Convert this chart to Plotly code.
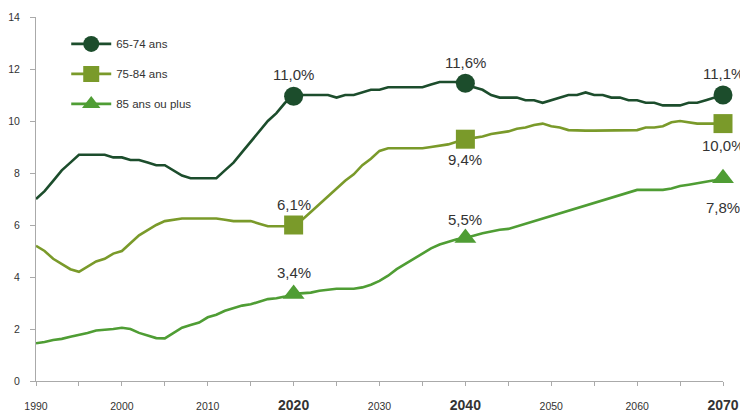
import plotly.graph_objects as go

years = list(range(1990, 2071))

s65_74 = [7.0, 7.3, 7.7, 8.1, 8.4, 8.7, 8.7, 8.7, 8.7, 8.6,
          8.6, 8.5, 8.5, 8.4, 8.3, 8.3, 8.1, 7.9, 7.8, 7.8,
          7.8, 7.8, 8.1, 8.4, 8.8, 9.2, 9.6, 10.0, 10.3, 10.7,
          10.95, 11.0, 11.0, 11.0, 11.0, 10.9, 11.0, 11.0, 11.1, 11.2,
          11.2, 11.3, 11.3, 11.3, 11.3, 11.3, 11.4, 11.5, 11.5, 11.5,
          11.45, 11.3, 11.2, 11.0, 10.9, 10.9, 10.9, 10.8, 10.8, 10.7,
          10.8, 10.9, 11.0, 11.0, 11.1, 11.0, 11.0, 10.9, 10.9, 10.8,
          10.8, 10.7, 10.7, 10.6, 10.6, 10.6, 10.7, 10.7, 10.8, 10.9,
          11.0]

s75_84 = [5.2, 5.0, 4.7, 4.5, 4.3, 4.2, 4.4, 4.6, 4.7, 4.9,
          5.0, 5.3, 5.6, 5.8, 6.0, 6.15, 6.2, 6.25, 6.25, 6.25,
          6.25, 6.25, 6.2, 6.15, 6.15, 6.15, 6.05, 5.95, 5.95, 5.95,
          6.0, 6.2, 6.5, 6.8, 7.1, 7.4, 7.7, 7.95, 8.3, 8.55,
          8.85, 8.95, 8.95, 8.95, 8.95, 8.95, 9.0, 9.05, 9.1, 9.2,
          9.3, 9.35, 9.4, 9.5, 9.55, 9.6, 9.7, 9.75, 9.85, 9.9,
          9.8, 9.75, 9.65, 9.63, 9.63, 9.63, 9.63, 9.63, 9.63, 9.63,
          9.65, 9.75, 9.75, 9.8, 9.95, 10.0, 9.95, 9.9, 9.9, 9.9,
          9.9]

s85_plus = [1.45, 1.5, 1.58, 1.62, 1.7, 1.77, 1.85, 1.94, 1.96, 2.0,
            2.05, 2.0, 1.85, 1.75, 1.65, 1.64, 1.85, 2.05, 2.15, 2.25,
            2.45, 2.55, 2.7, 2.8, 2.9, 2.95, 3.05, 3.15, 3.18, 3.25,
            3.35, 3.37, 3.4, 3.47, 3.5, 3.55, 3.55, 3.55, 3.6, 3.7,
            3.85, 4.05, 4.3, 4.5, 4.7, 4.9, 5.1, 5.25, 5.35, 5.45,
            5.5, 5.6, 5.68, 5.75, 5.82, 5.85, 5.95, 6.05, 6.15, 6.25,
            6.35, 6.45, 6.55, 6.65, 6.75, 6.85, 6.95, 7.05, 7.15, 7.25,
            7.35, 7.35, 7.35, 7.35, 7.4, 7.5, 7.55, 7.6, 7.65, 7.72,
            7.8]

key_years = [2020, 2040, 2070]
labels_65_74 = ["11,0%", "11,6%", "11,1%"]
labels_75_84 = ["6,1%", "9,4%", "10,0%"]
labels_85_plus = ["3,4%", "5,5%", "7,8%"]

series_names = ["65-74 ans", "75-84 ans", "85 ans ou plus"]
tick_years = list(range(1990, 2071, 5))
bold_years = [2020, 2040, 2070]
y_ticks = [0, 2, 4, 6, 8, 10, 12, 14]

colors = ["#1c4d2c", "#7a9a2a", "#4f9d34"]
symbols = ["circle", "square", "triangle-up"]
series = [s65_74, s75_84, s85_plus]
labels = [labels_65_74, labels_75_84, labels_85_plus]
label_shift = [[22, 21, 22],
               [21, -20, -22],
               [21, 19, -29]]

fig = go.Figure()
for i, (name, vals, col, sym, labs, shifts) in enumerate(zip(series_names, series, colors, symbols, labels, label_shift)):
    grp = "g%d" % i
    fig.add_trace(go.Scatter(x=years, y=vals, mode="lines", legendgroup=grp,
                             line=dict(color=col, width=2.6), showlegend=False,
                             hoverinfo="skip"))
    ky = [vals[years.index(k)] for k in key_years]
    fig.add_trace(go.Scatter(x=key_years, y=ky, mode="markers", legendgroup=grp,
                             marker=dict(symbol=sym, size=19, color=col),
                             cliponaxis=False, showlegend=False))
    fig.add_trace(go.Scatter(x=[None], y=[None], mode="lines+markers", name=name, legendgroup=grp,
                             line=dict(color=col, width=2.6),
                             marker=dict(symbol=sym, size=16, color=col)))
    for kx, kv, lab, sh in zip(key_years, ky, labs, shifts):
        fig.add_annotation(x=kx, y=kv, text=lab, showarrow=False, yshift=sh,
                           font=dict(family="Liberation Sans, Arial", size=15, color="#333333"))

ticktext = []
for y in tick_years:
    if y in bold_years:
        ticktext.append('<span style="font-size:14px"><b>%d</b></span>' % y)
    elif y % 10 == 0:
        ticktext.append(str(y))
    else:
        ticktext.append("")

fig.update_layout(
    width=740, height=407,
    margin=dict(l=28, r=25, t=9, b=34),
    paper_bgcolor="white", plot_bgcolor="white",
    font=dict(family="Liberation Sans, Arial", size=10, color="#333333"),
    legend=dict(x=0.044, y=0.966, xanchor="left", yanchor="top",
                font=dict(size=11.5, color="#333333"),
                bgcolor="rgba(0,0,0,0)", itemwidth=40, tracegroupgap=11,
                traceorder="grouped"),
    xaxis=dict(range=[1990, 2070], tickvals=tick_years, ticktext=ticktext,
               showgrid=False, zeroline=False, showline=True, linecolor="#aaaaaa",
               ticks="outside", ticklen=4, tickcolor="#aaaaaa", ticklabelstandoff=11,
               tickfont=dict(size=10.5, color="#333333"), tickangle=0, automargin=False),
    yaxis=dict(range=[0, 14], tickvals=y_ticks, showgrid=False, zeroline=False,
               showline=True, linecolor="#aaaaaa", ticks="outside", ticklen=5,
               tickcolor="#aaaaaa", ticklabelstandoff=8,
               tickfont=dict(size=10.5, color="#333333"), automargin=False),
)

fig.write_html("out.html")
